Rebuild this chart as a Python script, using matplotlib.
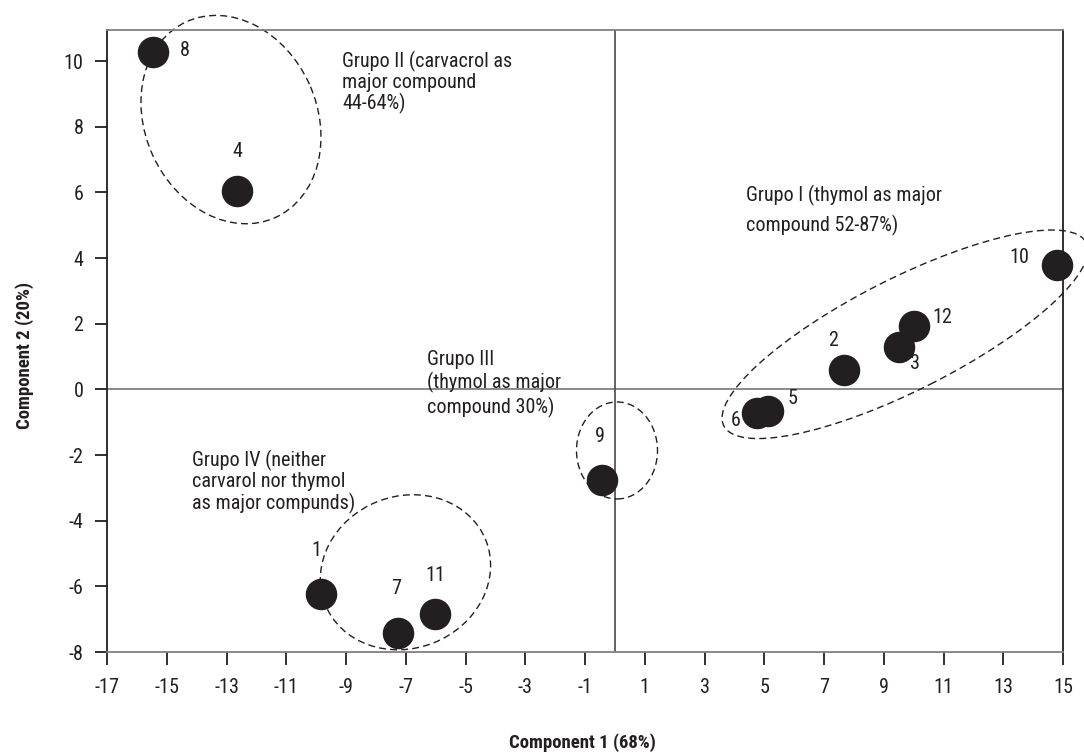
import matplotlib
matplotlib.use("Agg")
from matplotlib import pyplot as plt
from matplotlib.patches import Ellipse
from matplotlib.transforms import ScaledTranslation

plt.rcParams['font.family'] = ['Liberation Sans Narrow', 'Roboto Condensed', 'DejaVu Sans']
plt.rcParams['axes.unicode_minus'] = False

# sample scores on the two principal components
samples = ['1', '2', '3', '4', '5', '6', '7', '8', '9', '10', '11', '12']
comp1 = [-9.85, 7.67, 9.5, -12.65, 5.14, 4.77, -7.25, -15.47, -0.44, 14.8, -6.02, 10.0]
comp2 = [-6.24, 0.6, 1.29, 6.03, -0.66, -0.72, -7.42, 10.27, -2.75, 3.8, -6.85, 1.92]

# label offsets in pixels (dx, dy) from each point
label_off = [(-4, 44), (-11, 29), (16, -16), (0, 40), (24, 13), (-22, -7),
             (-2, 44), (32, 2), (-2, 43), (-38, 7), (0, 39), (29, 9)]

# groups: text, text position, ellipse centre, width/height (inches), angle
group_text = ["Grupo I (thymol as major\ncompound 52-87%)",
              "Grupo II (carvacrol as\nmajor compound\n44-64%)",
              "Grupo III\n(thymol as major\ncompound 30%)",
              "Grupo IV (neither\ncarvarol nor thymol\nas major compunds)"]
group_xy = [(4.39, 6.24), (-9.13, 10.3), (-6.29, 1.2), (-14.16, -1.83)]
group_spacing = [1.55, 1.05, 1.2, 1.1]
ell_center = [(9.71, 1.68), (-12.85, 8.22), (0.07, -1.86), (-7.01, -5.57)]
ell_size = [(4.06, 1.12), (2.15, 1.72), (0.81, 0.97), (1.73, 1.52)]
ell_angle = [26.8, 114.3, 0, 21.7]

ink = '#231f20'

fig = plt.figure(figsize=(10.84, 7.53), dpi=100)
ax = fig.add_axes([0.0987, 0.1341, 0.8820, 0.8261])

ax.set_xlim(-17, 15)
ax.set_ylim(-8, 10.95)
ax.set_xticks(range(-17, 16, 2))
ax.set_yticks(range(-8, 11, 2))

ax.axhline(0, color='#808080', lw=1.3, zorder=1)
ax.axvline(0, color='#555555', lw=1.3, zorder=1)

for (xc, yc), (w, h), ang in zip(ell_center, ell_size, ell_angle):
    tr = fig.dpi_scale_trans + ScaledTranslation(xc, yc, ax.transData)
    e = Ellipse((0, 0), w, h, angle=ang, transform=tr, fill=False,
                ls=(0, (5, 3)), lw=1.0, ec=ink, clip_on=False, zorder=2)
    ax.add_patch(e)

ax.scatter(comp1, comp2, s=470, color=ink, zorder=3, clip_on=False)

for s, x, y, off in zip(samples, comp1, comp2, label_off):
    ax.annotate(s, (x, y), xytext=off, textcoords='offset pixels',
                ha='center', va='center', fontsize=14.5, color=ink)

for t, (x, y), sp in zip(group_text, group_xy, group_spacing):
    ax.text(x, y, t, ha='left', va='top', fontsize=14.5, color=ink, linespacing=sp)

for side in ['top', 'bottom']:
    ax.spines[side].set_color('#808080')
    ax.spines[side].set_linewidth(1.3)
for side in ['left', 'right']:
    ax.spines[side].set_color(ink)
    ax.spines[side].set_linewidth(1.3)

ax.tick_params(axis='both', direction='out', length=9, width=1.3, color=ink,
               labelsize=14.5, labelcolor=ink)
ax.tick_params(axis='x', pad=10)
ax.tick_params(axis='y', pad=8)

ax.set_xlabel("Component 1 (68%)", fontsize=13.5, fontweight='bold', color=ink)
ax.set_ylabel("Component 2 (20%)", fontsize=13.5, fontweight='bold', color=ink)
ax.xaxis.set_label_coords(0.497, -0.131)
ax.yaxis.set_label_coords(-0.0765, 0.477)

fig.savefig("out.png", dpi=100)
